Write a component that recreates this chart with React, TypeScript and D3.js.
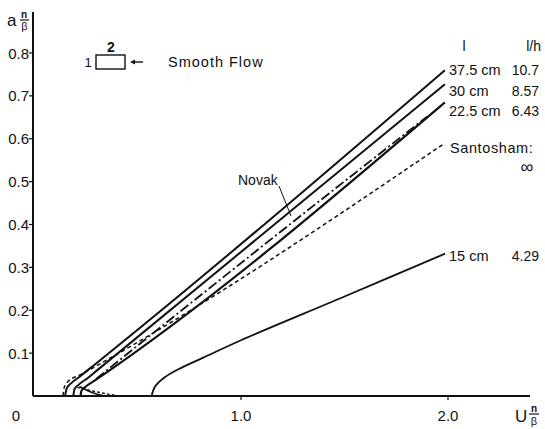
import React from "react";
import * as d3 from "d3";

type P = [number, number];

// Series (x = U·n/β, y = a·n/β)
const line375: P[] = [[0.15, 0], [0.158, 0.018], [0.18, 0.03], [0.22, 0.045], [0.3, 0.076], [1.985, 0.76]];
const line30: P[] = [[0.19, 0], [0.196, 0.016], [0.215, 0.026], [0.26, 0.042], [0.3, 0.058], [1.985, 0.727]];
const line225: P[] = [[0.225, 0], [0.229, 0.012], [0.245, 0.02], [0.3, 0.038], [1.985, 0.685]];
const novak: P[] = [[0.3, 0.04], [1.188, 0.382], [1.9, 0.652]];
const santosham: P[] = [[0.14, 0], [0.146, 0.02], [0.165, 0.034], [0.222, 0.049], [1.985, 0.59]];
const line15: P[] = [[0.568, 0], [0.585, 0.022], [0.63, 0.043], [0.7, 0.063], [0.82, 0.09], [1.0, 0.13], [1.5, 0.232], [1.986, 0.332]];
const lowerDashed: P[] = [[0.21, 0.02], [0.3, 0.01], [0.41, 0]];
const lowerSolid: P[] = [[0.22, 0.022], [0.28, 0.008], [0.34, 0]];

const yTicks = [0.1, 0.2, 0.3, 0.4, 0.5, 0.6, 0.7, 0.8];
const xTicks = [1.0, 2.0];
const xTickLabels = ["1.0", "2.0"];

const seriesLabels = ["37.5 cm", "30 cm", "22.5 cm", "15 cm"];
const ratioLabels = ["10.7", "8.57", "6.43", "4.29"];
const labelYs = [0.76, 0.712, 0.664, 0.327];

export default function App() {
  const x = d3.scaleLinear().domain([0, 2]).range([34, 448]);
  const y = d3.scaleLinear().domain([0, 0.8]).range([396, 53]);
  const line = d3
    .line<P>()
    .x((d) => x(d[0]))
    .y((d) => y(d[1]))
    .curve(d3.curveMonotoneX);
  const smooth = d3
    .line<P>()
    .x((d) => x(d[0]))
    .y((d) => y(d[1]))
    .curve(d3.curveCatmullRom.alpha(0.5));
  const font = "'Liberation Sans', Arial, sans-serif";
  const stroke = "#111";

  return (
    <svg
      width={545}
      height={429}
      style={{ position: "absolute", left: 0, top: 0, background: "#fff" }}
      fontFamily={font}
      fill="#111"
    >
      <rect width={545} height={429} fill="#fff" />
      {/* axes */}
      <line x1={x(0) - 1} x2={x(0) - 1} y1={12} y2={396} stroke={stroke} strokeWidth={2} />
      <line x1={x(0) - 1} x2={530} y1={396} y2={396} stroke={stroke} strokeWidth={2} />
      {yTicks.map((t) => (
        <g key={t}>
          <line x1={x(0) - 5} x2={x(0) - 1} y1={y(t)} y2={y(t)} stroke={stroke} strokeWidth={1.2} />
          <text x={x(0) - 5} y={y(t) + 5.5} textAnchor="end" fontSize={15}>
            {t.toFixed(1)}
          </text>
        </g>
      ))}
      {xTicks.map((t, i) => (
        <g key={t}>
          <line x1={x(t)} x2={x(t)} y1={396} y2={400} stroke={stroke} strokeWidth={1.2} />
          <text x={x(t)} y={421} textAnchor="middle" fontSize={15}>
            {xTickLabels[i]}
          </text>
        </g>
      ))}
      <text x={16} y={421} textAnchor="middle" fontSize={15}>0</text>

      {/* axis labels */}
      <text x={7} y={26} fontSize={17}>a</text>
      <text x={24} y={18} fontSize={10} textAnchor="middle" fontWeight="bold">n</text>
      <line x1={20} x2={29} y1={20} y2={20} stroke={stroke} strokeWidth={1.2} />
      <text x={24.5} y={30} fontSize={11} textAnchor="middle">β</text>

      <text x={515} y={422} fontSize={17}>U</text>
      <text x={534} y={412} fontSize={10} textAnchor="middle" fontWeight="bold">n</text>
      <line x1={529} x2={539} y1={414} y2={414} stroke={stroke} strokeWidth={1.2} />
      <text x={534} y={425} fontSize={11} textAnchor="middle">β</text>

      {/* curves */}
      <g fill="none" stroke={stroke}>
        <path d={line(line375) || ""} strokeWidth={2} />
        <path d={line(line30) || ""} strokeWidth={2} />
        <path d={line(line225) || ""} strokeWidth={2.2} />
        <path d={line(novak) || ""} strokeWidth={1.8} strokeDasharray="10 3 2 3" />
        <path d={line(santosham) || ""} strokeWidth={1.5} strokeDasharray="4 3" />
        <path d={smooth(line15) || ""} strokeWidth={1.8} />
        <path d={line(lowerDashed) || ""} strokeWidth={1.4} strokeDasharray="3 2" />
        <path d={line(lowerSolid) || ""} strokeWidth={1.6} />
      </g>

      {/* Novak pointer */}
      <text x={238} y={185} fontSize={14}>Novak</text>
      <line x1={279} y1={186} x2={291} y2={216} stroke={stroke} strokeWidth={1} />

      {/* right labels */}
      <text x={464} y={51} fontSize={14} textAnchor="middle">l</text>
      <text x={541} y={51} fontSize={14} textAnchor="end">l/h</text>
      {seriesLabels.map((s, i) => (
        <g key={s}>
          <text x={449} y={y(labelYs[i]) + 5} fontSize={14.5}>{s}</text>
          <text x={539} y={y(labelYs[i]) + 5} fontSize={14} textAnchor="end">{ratioLabels[i]}</text>
        </g>
      ))}
      <text x={450} y={153} fontSize={14.5} letterSpacing={0.6}>Santosham:</text>
      <text x={527} y={173} fontSize={18} textAnchor="middle">∞</text>

      {/* inset sketch */}
      <rect x={96} y={55} width={29} height={14} fill="none" stroke={stroke} strokeWidth={1.4} />
      <text x={88} y={67} fontSize={13} textAnchor="middle">1</text>
      <text x={111} y={52} fontSize={14} textAnchor="middle" fontWeight="bold">2</text>
      <line x1={133} x2={143} y1={62} y2={62} stroke={stroke} strokeWidth={1.4} />
      <path d="M130,62 L135,59.5 L135,64.5 Z" fill={stroke} />
      <text x={168} y={67} fontSize={14.5} letterSpacing={1}>Smooth Flow</text>
    </svg>
  );
}
